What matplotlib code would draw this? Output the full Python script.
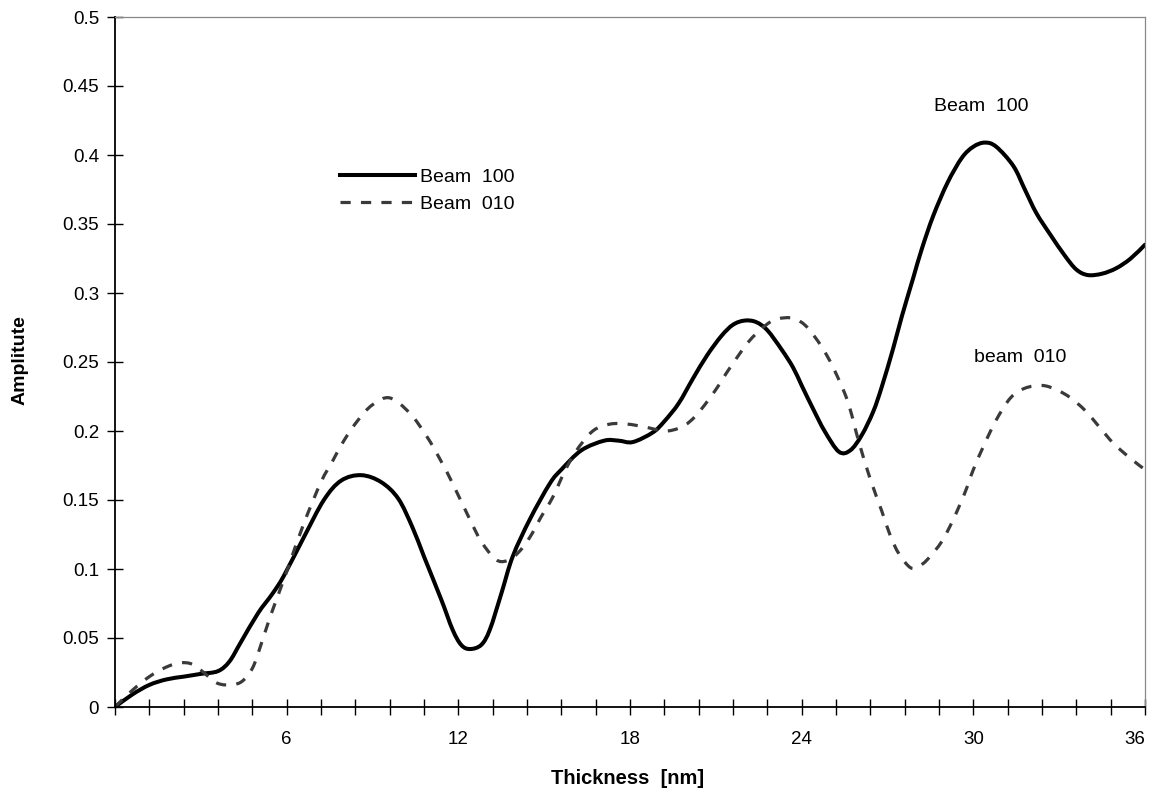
import matplotlib.pyplot as plt
import numpy as np
from matplotlib.path import Path
from matplotlib.patches import PathPatch
from matplotlib.lines import Line2D

plt.rcParams['font.family'] = ['Liberation Sans', 'DejaVu Sans']

# Beam 100 (solid)
x100 = [0, 0.6, 1.2, 1.8, 2.4, 3.0, 3.6, 4.0, 4.4, 5.0, 5.5, 5.9, 6.6, 7.3, 7.9, 8.6,
        9.3, 9.9, 10.4, 10.8, 11.4, 11.8, 12.1, 12.4, 12.8, 13.1, 13.5, 13.9, 14.5,
        15.2, 15.6, 16.3, 17.1, 17.6, 18.1, 18.8, 19.2, 19.7, 20.2, 20.7, 21.2, 21.6,
        22.0, 22.4, 22.8, 23.3, 23.7, 24.0, 24.4, 24.8, 25.3, 25.7, 26.1, 26.5, 26.8,
        27.2, 27.5, 27.9, 28.2, 28.6, 29.1, 29.6, 30.0, 30.4, 30.8, 31.4, 31.8, 32.2,
        32.7, 33.2, 33.6, 34.0, 34.5, 35.0, 35.5, 36.0]
y100 = [0, 0.009, 0.016, 0.020, 0.022, 0.024, 0.026, 0.033, 0.047, 0.068, 0.082, 0.095,
        0.123, 0.150, 0.164, 0.168, 0.163, 0.151, 0.130, 0.109, 0.078, 0.056, 0.045,
        0.042, 0.045, 0.056, 0.082, 0.109, 0.136, 0.162, 0.172, 0.186, 0.193, 0.193,
        0.192, 0.199, 0.207, 0.220, 0.238, 0.255, 0.269, 0.277, 0.280, 0.279, 0.273,
        0.259, 0.246, 0.233, 0.216, 0.200, 0.185, 0.186, 0.197, 0.214, 0.232, 0.260,
        0.283, 0.311, 0.332, 0.356, 0.380, 0.398, 0.406, 0.409, 0.406, 0.392, 0.375,
        0.358, 0.342, 0.327, 0.317, 0.313, 0.314, 0.318, 0.325, 0.335]

# Beam 010 (dashed)
x010 = [0, 0.6, 1.2, 1.8, 2.3, 2.7, 3.1, 3.5, 3.9, 4.4, 4.8, 5.1, 5.4, 5.7, 6.1, 6.6,
        7.2, 7.6, 8.0, 8.5, 9.0, 9.6, 10.3, 10.9, 11.4, 11.8, 12.4, 12.8, 13.3, 13.7,
        14.1, 14.5, 14.9, 15.3, 15.7, 16.1, 16.7, 17.3, 17.9, 18.5, 19.2, 19.7, 20.1,
        20.5, 21.0, 21.5, 22.2, 22.9, 23.4, 23.8, 24.2, 24.7, 25.1, 25.6, 26.0, 26.4,
        26.8, 27.1, 27.4, 27.8, 28.1, 28.4, 28.9, 29.3, 29.7, 30.0, 30.4, 30.8, 31.3,
        31.8, 32.4, 32.9, 33.4, 33.9, 34.4, 34.9, 35.5, 36.0]
y010 = [0, 0.012, 0.022, 0.029, 0.032, 0.031, 0.025, 0.018, 0.016, 0.018, 0.028, 0.045,
        0.064, 0.081, 0.104, 0.133, 0.163, 0.178, 0.193, 0.208, 0.219, 0.224, 0.213,
        0.196, 0.178, 0.162, 0.136, 0.120, 0.107, 0.106, 0.112, 0.123, 0.138, 0.152,
        0.170, 0.185, 0.200, 0.205, 0.205, 0.203, 0.200, 0.202, 0.207, 0.216, 0.230,
        0.246, 0.266, 0.279, 0.282, 0.281, 0.275, 0.261, 0.246, 0.222, 0.192, 0.165,
        0.142, 0.124, 0.111, 0.101, 0.102, 0.107, 0.120, 0.136, 0.155, 0.172, 0.191,
        0.208, 0.224, 0.231, 0.233, 0.230, 0.224, 0.215, 0.203, 0.191, 0.180, 0.172]

xticks = [round(1.2 * i, 1) for i in range(31)]
xlabels = [str(int(t)) if i % 5 == 0 and i > 0 else '' for i, t in enumerate(xticks)]
yticks = [0, 0.05, 0.1, 0.15, 0.2, 0.25, 0.3, 0.35, 0.4, 0.45, 0.5]
ylabels = ['0', '0.05', '0.1', '0.15', '0.2', '0.25', '0.3', '0.35', '0.4', '0.45', '0.5']


def smooth_path(xs, ys):
    # excel-like smoothed line: bezier segments through the read points
    pts = np.column_stack([xs, ys])
    n = len(pts)
    verts = [pts[0]]
    codes = [Path.MOVETO]
    for i in range(n - 1):
        p0 = pts[i - 1] if i > 0 else pts[i]
        p1 = pts[i]
        p2 = pts[i + 1]
        p3 = pts[i + 2] if i + 2 < n else pts[i + 1]
        verts += [p1 + (p2 - p0) / 6, p2 - (p3 - p1) / 6, p2]
        codes += [Path.CURVE4] * 3
    return Path(verts, codes)


fig = plt.figure(figsize=(11.51, 7.9), dpi=100)
ax = fig.add_axes([115/1151, 83/790, 1030/1151, 690/790])

solid_style = dict(color='black', lw=2.9)
dash_style = dict(color='#3a3a3a', lw=2.3, dashes=(3.2, 3.2))

ax.add_patch(PathPatch(smooth_path(x100, y100), fill=False, edgecolor='black',
                       lw=2.9, joinstyle='round', capstyle='round'))
ax.add_patch(PathPatch(smooth_path(x010, y010), fill=False, edgecolor='#3a3a3a',
                       lw=2.3, linestyle=(0, (3.2, 3.2)), capstyle='butt'))

ax.set_xlim(0, 36)
ax.set_ylim(0, 0.5)
ax.set_xticks(xticks)
ax.set_xticklabels(xlabels)
ax.set_yticks(yticks)
ax.set_yticklabels(ylabels)
ax.tick_params(axis='both', direction='inout', length=11, width=1, labelsize=13.5)
ax.tick_params(axis='x', pad=12)
ax.tick_params(axis='y', pad=6)
ax.get_xticklabels()[-1].set_horizontalalignment('right')

for s in ['left', 'bottom']:
    ax.spines[s].set_linewidth(1.3)
    ax.spines[s].set_color('black')
for s in ['top', 'right']:
    ax.spines[s].set_linewidth(0.9)
    ax.spines[s].set_color('#888888')

ax.text(30.28, 0.435, 'Beam  100', ha='center', va='center', fontsize=14)
ax.text(31.64, 0.253, 'beam  010', ha='center', va='center', fontsize=14)

handles = [Line2D([], [], **solid_style), Line2D([], [], **dash_style)]
ax.legend(handles, ['Beam  100', 'Beam  010'], loc='upper left',
          bbox_to_anchor=(340/1151, 1 - 168/790),
          bbox_transform=fig.transFigure, frameon=False, fontsize=14,
          handlelength=3.87, handletextpad=0.26, borderpad=0, borderaxespad=0,
          labelspacing=0.5)

fig.text(20/1151, 1 - 360/790, 'Amplitute', rotation=90, ha='center', va='center',
         fontsize=14, fontweight='bold')
fig.text(628/1151, 11/790, 'Thickness  [nm]', ha='center', va='center',
         fontsize=14.5, fontweight='bold')

fig.savefig('out.png', dpi=100)
